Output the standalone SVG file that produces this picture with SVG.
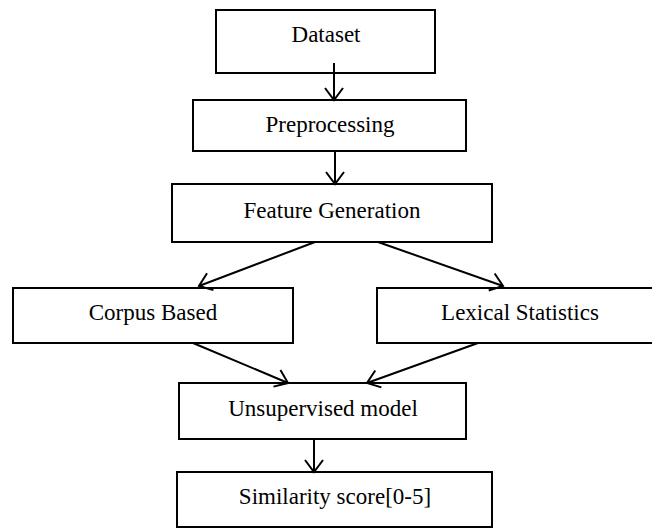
<svg xmlns="http://www.w3.org/2000/svg" width="652" height="531" viewBox="0 0 652 531">
<style>
.box{fill:#fff;stroke:#000;stroke-width:2}
.lbl{font-family:"Liberation Serif","Times New Roman",serif;font-size:23px;fill:#000;text-anchor:middle}
.conn{stroke:#000;stroke-width:2;fill:none;marker-end:url(#arr)}
</style>
<defs>
<marker id="arr" viewBox="-14 -11 16 22" refX="0" refY="0" markerWidth="16" markerHeight="22" markerUnits="userSpaceOnUse" orient="auto">
<path d="M-12,-9 L0,0 L-12,9" fill="none" stroke="#000" stroke-width="2"/>
</marker>
</defs>
<rect width="652" height="531" fill="#fff"/>
<g id="n-dataset"><rect class="box" x="216" y="10" width="219" height="63"/><text class="lbl" x="326" y="42">Dataset</text></g>
<g id="n-preprocessing"><rect class="box" x="193" y="100" width="273" height="51"/><text class="lbl" x="330" y="132">Preprocessing</text></g>
<g id="n-feature"><rect class="box" x="172" y="184" width="320" height="58"/><text class="lbl" x="332" y="218">Feature Generation</text></g>
<g id="n-corpus"><rect class="box" x="13" y="288" width="280" height="55"/><text class="lbl" x="153" y="320">Corpus Based</text></g>
<g id="n-lexical"><rect class="box" x="377" y="288" width="290" height="55"/><text class="lbl" x="520" y="320">Lexical Statistics</text></g>
<g id="n-unsupervised"><rect class="box" x="179" y="383" width="287" height="56"/><text class="lbl" x="323" y="416">Unsupervised model</text></g>
<g id="n-similarity"><rect class="box" x="177" y="472" width="315" height="55"/><text class="lbl" x="335" y="504">Similarity score[0-5]</text></g>
<g id="connectors">
<line class="conn" x1="334" y1="63" x2="334" y2="100"/>
<line class="conn" x1="335" y1="151" x2="335" y2="184"/>
<line class="conn" x1="315" y1="242" x2="199" y2="286"/>
<line class="conn" x1="378" y1="242" x2="503" y2="286"/>
<line class="conn" x1="193" y1="343" x2="288" y2="383"/>
<line class="conn" x1="478" y1="343" x2="367" y2="383"/>
<line class="conn" x1="314" y1="439" x2="314" y2="472"/>
</g>
</svg>
